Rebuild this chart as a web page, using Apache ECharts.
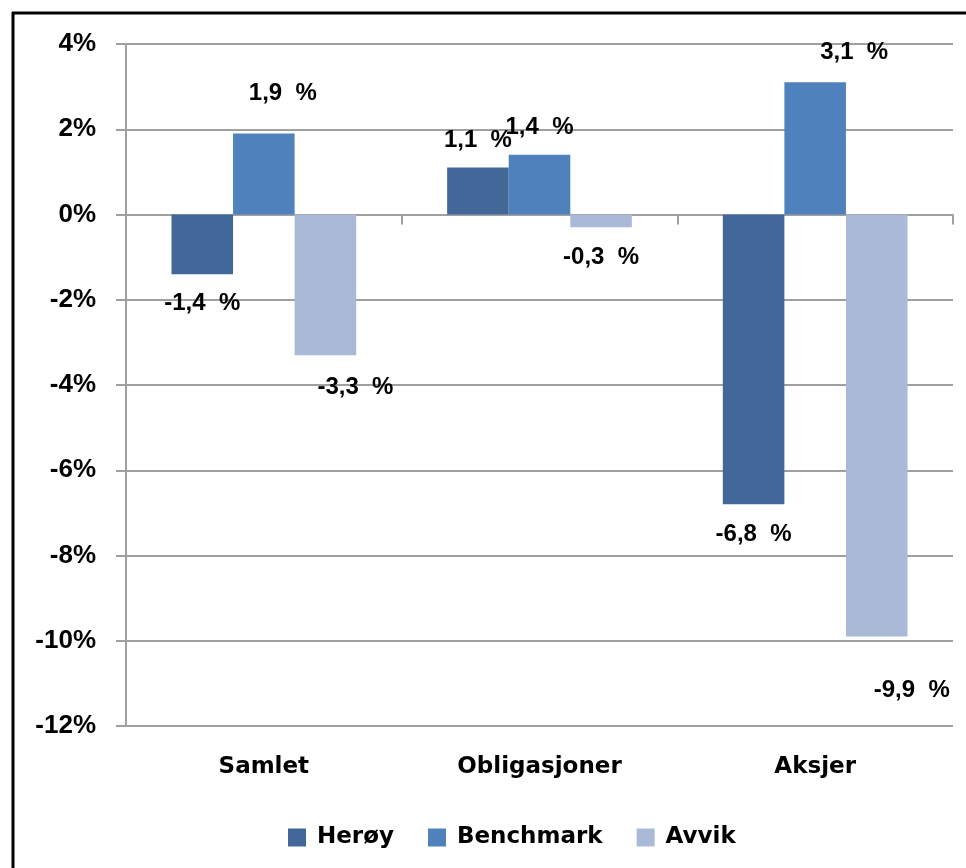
<!DOCTYPE html>
<html>
<head>
<meta charset="utf-8">
<script src="https://cdn.jsdelivr.net/npm/echarts@6/dist/echarts.min.js"></script>
<style>
  html, body { margin: 0; padding: 0; background: #fff; }
  #chart { width: 966px; height: 868px; }
</style>
</head>
<body>
<div id="chart"></div>
<script>
var categories = ['Samlet', 'Obligasjoner', 'Aksjer'];
var heroy = [-1.4, 1.1, -6.8];
var benchmark = [1.9, 1.4, 3.1];
var avvik = [-3.3, -0.3, -9.9];

// manual label nudges (like the hand-placed labels in the original)
var labelNudge = {
  'Herøy': [[0, 2], [0, 0], [0, 3]],
  'Benchmark': [[19, -13], [0, 0], [39, -3]],
  'Avvik': [[30, 5], [0, 3], [35, 27]]
};

function makeSeries (name, values, color) {
  return {
    name: name,
    type: 'bar',
    barGap: '0%',
    barCategoryGap: '33%',
    itemStyle: { color: color },
    data: values.map(function (v, i) {
      return {
        value: v,
        label: {
          position: v < 0 ? 'bottom' : 'top',
          offset: labelNudge[name][i]
        }
      };
    }),
    label: {
      show: true,
      distance: 15,
      fontFamily: 'Liberation Sans',
      fontWeight: 'bold',
      fontSize: 24,
      color: '#000',
      formatter: function (p) {
        return p.value.toFixed(1).replace('.', ',') + '  %';
      }
    }
  };
}

var chartDom = document.getElementById('chart');
var myChart = echarts.init(chartDom);
var option;

option = {
  animation: false,
  grid: { left: 126, right: 13, top: 44, bottom: 142 },
  legend: {
    left: 283,
    top: 821,
    itemWidth: 18,
    itemHeight: 18,
    itemGap: 34,
    icon: 'rect',
    textStyle: {
      fontFamily: 'DejaVu Sans',
      fontWeight: 'bold',
      fontSize: 23,
      color: '#000',
      padding: [0, 0, 0, 6]
    },
    data: ['Herøy', 'Benchmark', 'Avvik']
  },
  xAxis: [
    {
      type: 'category',
      data: categories,
      position: 'bottom',
      axisLine: { show: false, onZero: false },
      axisTick: { show: false },
      axisLabel: {
        margin: 30,
        fontFamily: 'DejaVu Sans',
        fontWeight: 'bold',
        fontSize: 23,
        color: '#000'
      }
    },
    {
      type: 'category',
      data: categories,
      position: 'bottom',
      axisLine: { show: true, onZero: true, lineStyle: { color: '#a0a0a0', width: 2 } },
      axisTick: { show: true, length: 10, lineStyle: { color: '#a0a0a0', width: 2 } },
      axisLabel: { show: false }
    }
  ],
  yAxis: {
    type: 'value',
    min: -12,
    max: 4,
    interval: 2,
    axisLine: { show: true, lineStyle: { color: '#a0a0a0', width: 2 } },
    axisTick: { show: true, length: 10, lineStyle: { color: '#a0a0a0', width: 2 } },
    splitLine: { lineStyle: { color: '#a0a0a0', width: 2 } },
    axisLabel: {
      margin: 30,
      formatter: '{value}%',
      fontFamily: 'Liberation Sans',
      fontWeight: 'bold',
      fontSize: 26,
      color: '#000'
    }
  },
  graphic: [
    { type: 'line', shape: { x1: 12, y1: 13, x2: 966, y2: 13 }, style: { stroke: '#000', lineWidth: 3 } },
    { type: 'line', shape: { x1: 13, y1: 12, x2: 13, y2: 868 }, style: { stroke: '#000', lineWidth: 3 } }
  ],
  series: [
    makeSeries('Herøy', heroy, '#416899'),
    makeSeries('Benchmark', benchmark, '#4f81bd'),
    makeSeries('Avvik', avvik, '#aab9d8')
  ]
};

option && myChart.setOption(option);
</script>
</body>
</html>
